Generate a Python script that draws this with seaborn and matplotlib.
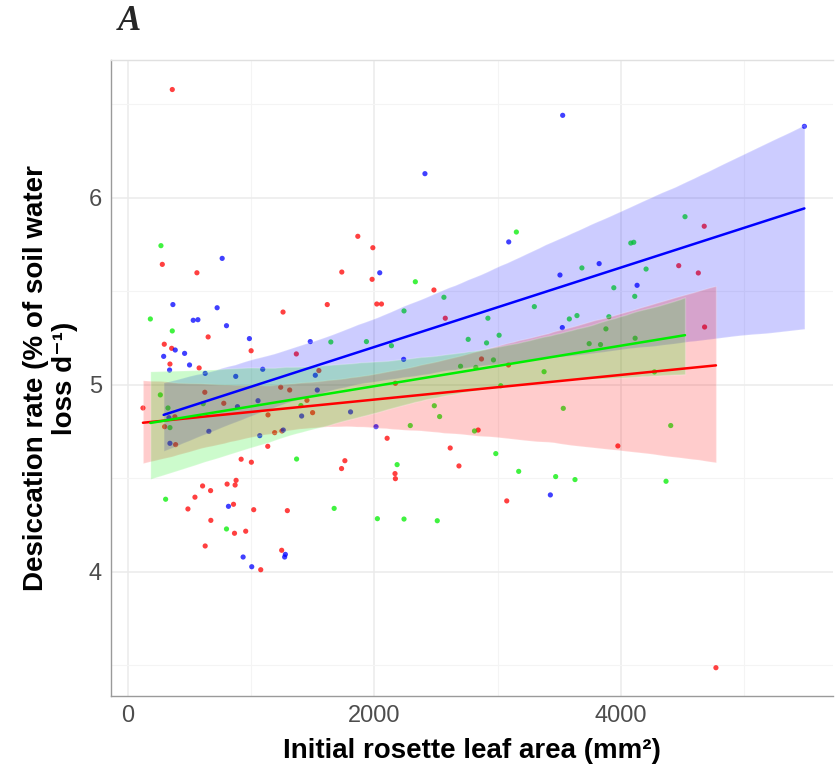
import numpy as np
import pandas as pd
import matplotlib
matplotlib.use("Agg")
import matplotlib.pyplot as plt
import seaborn as sns
from matplotlib.ticker import MultipleLocator, FixedLocator

# ---------------- data ----------------
red_x = [359, 278, 559, 1865, 1987, 1735, 1981, 2483, 2575, 1366, 1549, 1617, 2019, 2057,
         1258, 650, 999, 294, 354, 340, 577, 121, 297, 386, 623, 777, 1239, 1312, 1136,
         1190, 1249, 1134, 918, 1001, 605, 804, 877, 869, 670, 1452, 1498, 380, 543, 486,
         856, 1020, 1293, 672, 864, 955, 626, 1077, 1247, 1733, 1760, 2103, 2167, 2170,
         2615, 2686, 2170, 4677, 4470, 4629, 4680, 2869, 3088, 2842, 3976, 3074, 4772]
red_y = [6.58, 5.645, 5.60, 5.795, 5.734, 5.604, 5.565, 5.508, 5.357, 5.166, 5.077, 5.43,
         5.433, 5.433, 5.39, 5.257, 5.183, 5.218, 5.196, 5.112, 5.091, 4.877, 4.777, 4.681,
         4.961, 4.902, 4.988, 4.973, 4.84, 4.745, 4.754, 4.672, 4.603, 4.587, 4.46, 4.47,
         4.49, 4.465, 4.435, 4.918, 4.852, 4.83, 4.40, 4.337, 4.362, 4.333, 4.328, 4.276,
         4.207, 4.218, 4.139, 4.012, 4.116, 4.553, 4.595, 4.715, 4.526, 4.499, 4.663,
         4.567, 5.009, 5.849, 5.638, 5.599, 5.31, 5.139, 5.107, 4.759, 4.674, 4.38, 3.488]

blue_x = [2410, 764, 2043, 2237, 1479, 1520, 364, 723, 529, 567, 799, 985, 383, 459, 289,
          337, 499, 626, 874, 1093, 332, 340, 888, 1055, 656, 1069, 1260, 1409, 1536, 1806,
          815, 934, 1004, 1277, 1271, 2013, 3528, 5490, 3090, 3506, 3824, 4132, 3525, 3428]
blue_y = [6.13, 5.677, 5.60, 5.137, 5.232, 5.052, 5.43, 5.413, 5.346, 5.349, 5.317, 5.248,
          5.187, 5.169, 5.153, 5.08, 5.107, 5.062, 5.046, 5.084, 4.825, 4.688, 4.884, 4.916,
          4.752, 4.729, 4.759, 4.834, 4.973, 4.856, 4.351, 4.08, 4.028, 4.094, 4.08, 4.777,
          6.442, 6.383, 5.765, 5.588, 5.649, 5.533, 5.307, 4.412]

green_x = [267, 2332, 2564, 2761, 2240, 2138, 1935, 1646, 2699, 181, 359, 262, 324, 340, 610,
           1403, 1368, 305, 799, 1673, 2184, 2024, 2240, 2510, 2291, 2486, 2529, 4521, 3152,
           4081, 4105, 3684, 4205, 3943, 4113, 3298, 2921, 3582, 3644, 3903, 3879, 2910,
           3012, 3743, 3835, 4116, 2966, 2823, 3377, 3533, 2812, 2985, 3171, 3471, 3628,
           4367, 4405, 3025, 4273]
green_y = [5.745, 5.552, 5.469, 5.244, 5.396, 5.21, 5.232, 5.23, 5.10, 5.353, 5.289, 4.947,
           4.877, 4.772, 4.90, 4.89, 4.604, 4.389, 4.23, 4.34, 4.574, 4.285, 4.283, 4.274,
           4.783, 4.889, 4.831, 5.90, 5.818, 5.759, 5.763, 5.626, 5.62, 5.52, 5.474, 5.419,
           5.357, 5.353, 5.371, 5.365, 5.30, 5.225, 5.266, 5.221, 5.216, 5.25, 5.134, 5.094,
           5.071, 4.875, 4.754, 4.633, 4.538, 4.51, 4.494, 4.485, 4.783, 4.996, 5.07]

groups = ["G1", "G2", "G3"]
group_colors = {"G1": "#FF0000", "G2": "#00EE00", "G3": "#0000FF"}
x_ticks = [0, 2000, 4000]
y_ticks = [4, 5, 6]

df = pd.concat([
    pd.DataFrame({"area": red_x, "rate": red_y, "group": "G1"}),
    pd.DataFrame({"area": green_x, "rate": green_y, "group": "G2"}),
    pd.DataFrame({"area": blue_x, "rate": blue_y, "group": "G3"}),
], ignore_index=True)

# ---------------- figure ----------------
sns.set_style("white")
plt.rcParams["font.family"] = ["Liberation Sans", "DejaVu Sans"]

fig = plt.figure(figsize=(8.35, 7.69), dpi=100)
ax = fig.add_axes([0.133, 0.095, 0.865, 0.827])

ax.set_xlim(-138, 5725)
ax.set_ylim(3.337, 6.738)

# grid
ax.xaxis.set_major_locator(FixedLocator(x_ticks))
ax.yaxis.set_major_locator(FixedLocator(y_ticks))
ax.xaxis.set_minor_locator(MultipleLocator(1000))
ax.yaxis.set_minor_locator(MultipleLocator(0.5))
ax.grid(which="major", color="#EBEBEB", linewidth=1.1)
ax.grid(which="minor", color="#F4F4F4", linewidth=0.8)
ax.set_axisbelow(True)

# points
sns.scatterplot(data=df, x="area", y="rate", hue="group", palette=group_colors,
                s=14, alpha=0.75, edgecolor="none", legend=False, ax=ax, zorder=2)

# regression lines with CI, drawn in order blue, red, green
for g in ["G3", "G1", "G2"]:
    n_before = len(ax.collections)
    sub = df[df["group"] == g]
    sns.regplot(data=sub, x="area", y="rate", scatter=False, ci=95, n_boot=2000, seed=3,
                color=group_colors[g], truncate=True, ax=ax,
                line_kws={"linewidth": 1.8, "zorder": 4})
    for coll in ax.collections[n_before:]:
        coll.set_alpha(0.2)
        coll.set_zorder(3)

# spines
ax.spines["right"].set_visible(False)
ax.spines["top"].set_color("#E0E0E0")
ax.spines["left"].set_color("#9A9A9A")
ax.spines["bottom"].set_color("#9A9A9A")
for s in ["left", "bottom", "top"]:
    ax.spines[s].set_linewidth(1.0)

ax.tick_params(axis="both", which="major", length=3.5, color="#9A9A9A", width=1.0,
               labelsize=17, labelcolor="#4D4D4D", pad=3)
ax.tick_params(axis="both", which="minor", length=0)

ax.set_xlabel("Initial rosette leaf area (mm²)", fontsize=20, fontweight="bold",
              color="black", labelpad=8)
ax.set_ylabel("Desiccation rate (% of soil water\nloss d⁻¹)", fontsize=20,
              fontweight="bold", color="black", labelpad=8, linespacing=1.15)

fig.text(0.141, 0.972, "A", fontsize=25, fontweight="bold", fontstyle="italic",
         family=["Liberation Serif", "DejaVu Serif"], ha="left", va="center")

fig.savefig("out.png", dpi=100)
